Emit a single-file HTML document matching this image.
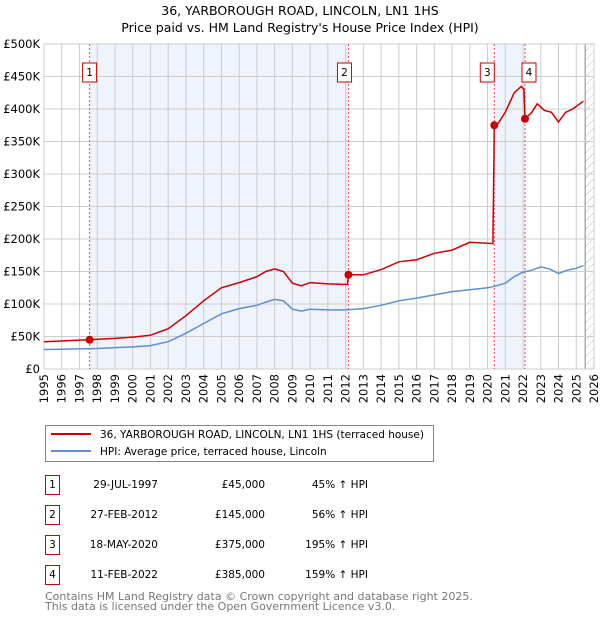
<!DOCTYPE html>
<html><head><meta charset="utf-8"><style>
body{margin:0;background:#fff;font-family:"Liberation Sans","DejaVu Sans",sans-serif;}
svg text{font-family:"DejaVu Sans","Liberation Sans",sans-serif;}
</style></head><body>
<svg id="c" width="600" height="620" xmlns="http://www.w3.org/2000/svg">
<text x="300" y="15" text-anchor="middle" font-size="12.5">36, YARBOROUGH ROAD, LINCOLN, LN1 1HS</text>
<text x="300" y="32" text-anchor="middle" font-size="12.5">Price paid vs. HM Land Registry's House Price Index (HPI)</text>
<defs><pattern id="hatch" width="6" height="6" patternUnits="userSpaceOnUse" patternTransform="rotate(45)"><line x1="0" y1="0" x2="0" y2="6" stroke="#bbb" stroke-width="1"/></pattern></defs>
<g id="plot"></g>
<g>
<rect x="45.5" y="425.5" width="388" height="36" fill="#fff" stroke="#888"/>
<line x1="51" y1="434" x2="91" y2="434" stroke="#cc0000" stroke-width="2"/>
<text x="100" y="438" font-size="10.5">36, YARBOROUGH ROAD, LINCOLN, LN1 1HS (terraced house)</text>
<line x1="51" y1="451" x2="91" y2="451" stroke="#5b8fd0" stroke-width="2"/>
<text x="100" y="455" font-size="10.5">HPI: Average price, terraced house, Lincoln</text>
</g>
<g id="table" font-size="10.5"></g>
<text x="45" y="600" font-size="11" fill="#777">Contains HM Land Registry data © Crown copyright and database right 2025.</text>
<text x="45" y="610" font-size="11" fill="#777">This data is licensed under the Open Government Licence v3.0.</text>
</svg>
<script>
const hpiYears=[1995,1996,1997,1998,1999,2000,2001,2002,2003,2004,2005,2006,2007,2007.5,2008,2008.5,2009,2009.5,2010,2011,2012,2012.5,2013,2014,2015,2016,2017,2018,2019,2020,2020.5,2021,2021.5,2022,2022.5,2023,2023.5,2024,2024.5,2025,2025.4];
const hpiValues=[30,30.5,31,31.5,33,34,36,42,55,70,85,93,98,103,107,105,92,89,92,91,91,92,93,98,105,109,114,119,122,125,128,132,142,149,152,157,154,147,152,155,159];
const priceYears=[1995,1997.5,1999,2000,2001,2002,2003,2004,2005,2006,2007,2007.5,2008,2008.5,2009,2009.5,2010,2011,2012.1,2012.16,2013,2014,2015,2016,2017,2018,2019,2020.3,2020.38,2020.6,2021,2021.5,2021.9,2022.05,2022.11,2022.5,2022.8,2023.2,2023.6,2024,2024.4,2024.8,2025.4];
const priceValues=[42,45,47,49,52,62,82,105,125,133,142,150,154,150,132,128,133,131,130,145,145,153,165,168,178,183,195,193,375,378,395,425,435,430,385,395,408,398,395,380,395,400,412];
const saleYears=[1997.57,2012.16,2020.38,2022.11];
const saleValues=[45,145,375,385];
const saleLabels=["1","2","3","4"];
const saleDates=["29-JUL-1997","27-FEB-2012","18-MAY-2020","11-FEB-2022"];
const salePrices=["£45,000","£145,000","£375,000","£385,000"];
const salePcts=["45% ↑ HPI","56% ↑ HPI","195% ↑ HPI","159% ↑ HPI"];
const yTicks=[0,50,100,150,200,250,300,350,400,450,500];
const yTickLabels=["£0","£50K","£100K","£150K","£200K","£250K","£300K","£350K","£400K","£450K","£500K"];
const xTicks=[1995,1996,1997,1998,1999,2000,2001,2002,2003,2004,2005,2006,2007,2008,2009,2010,2011,2012,2013,2014,2015,2016,2017,2018,2019,2020,2021,2022,2023,2024,2025,2026];

const X0=44,X1=594,Y0=369,Y1=44;
const xs=y=>X0+(y-1995)/(2026-1995)*(X1-X0);
const ys=v=>Y0-v/500*(Y0-Y1);
const NS="http://www.w3.org/2000/svg";
const plot=document.getElementById('plot');
function mk(tag,attrs,parent){const e=document.createElementNS(NS,tag);for(const k in attrs)e.setAttribute(k,attrs[k]);(parent||plot).appendChild(e);return e;}

let e;
e=mk('rect',{x:X0,y:Y1,width:X1-X0,height:Y0-Y1,fill:'#fff'});


e=mk('rect',{x:xs(saleYears[0]),y:Y1,width:xs(saleYears[1])-xs(saleYears[0]),height:Y0-Y1,fill:'#eef3fc'});


e=mk('rect',{x:xs(saleYears[2]),y:Y1,width:xs(saleYears[3])-xs(saleYears[2]),height:Y0-Y1,fill:'#eef3fc'});


e=mk('rect',{x:xs(2025.5),y:Y1,width:X1-xs(2025.5),height:Y0-Y1,fill:'url(#hatch)'});


mk('line',{x1:xs(2025.5),y1:Y1,x2:xs(2025.5),y2:Y0,stroke:'#888','stroke-width':1});

yTicks.forEach((v,i)=>{
  mk('line',{x1:X0,y1:ys(v),x2:X1,y2:ys(v),stroke:'#ccc','stroke-width':1});
  const t=mk('text',{x:X0-4,y:ys(v)+4,'text-anchor':'end','font-size':11.5});t.textContent=yTickLabels[i];
  
  
});
xTicks.forEach(y=>{
  mk('line',{x1:xs(y),y1:Y1,x2:xs(y),y2:Y0,stroke:'#ccc','stroke-width':1});
  const t=mk('text',{x:0,y:0,'text-anchor':'end','font-size':11.5,transform:`translate(${xs(y)+4},${Y0+5}) rotate(-90)`});t.textContent=y;
  
  
});
mk('rect',{x:X0,y:Y1,width:X1-X0,height:Y0-Y1,fill:'none',stroke:'#ccc'});

saleYears.forEach(y=>{mk('line',{x1:xs(y),y1:Y1,x2:xs(y),y2:Y0,stroke:'#e05050','stroke-width':1,'stroke-dasharray':'2,2'});});

const pts=(a,b)=>a.map((y,i)=>xs(y).toFixed(1)+','+ys(b[i]).toFixed(1)).join(' ');
e=mk('polyline',{points:pts(hpiYears,hpiValues),fill:'none',stroke:'#5b8fd0','stroke-width':1.5});


e=mk('polyline',{points:pts(priceYears,priceValues),fill:'none',stroke:'#cc0000','stroke-width':1.5});



saleYears.forEach((y,i)=>{
  const c=mk('circle',{cx:xs(y),cy:ys(saleValues[i]),r:4,fill:'#cc0000'});
  
  
  const bx=xs(y)-(i===3?-1:1)*0-7-(i===0?0:(i===1?4:(i===2?7:-4)));
  const g=mk('g',{});
  
  
  mk('rect',{x:bx,y:63,width:14,height:19,fill:'#fff',stroke:'#cc0000'},g);
  const t=mk('text',{x:bx+7,y:76,'text-anchor':'middle','font-size':10.5},g);t.textContent=saleLabels[i];
});

const tb=document.getElementById('table');
saleLabels.forEach((l,i)=>{
  const y=475+i*30;
  const g=mk('g',{},tb);
  
  
  mk('rect',{x:45.5,y:y+0.5,width:14,height:19,fill:'#fff',stroke:'#cc0000'},g);
  let t=mk('text',{x:52.5,y:y+13,'text-anchor':'middle'},g);t.textContent=l;
  t=mk('text',{x:158,y:y+13,'text-anchor':'end'},g);t.textContent=saleDates[i];
  t=mk('text',{x:265,y:y+13,'text-anchor':'end'},g);t.textContent=salePrices[i];
  t=mk('text',{x:368,y:y+13,'text-anchor':'end'},g);t.textContent=salePcts[i];
});
</script>
</body></html>
